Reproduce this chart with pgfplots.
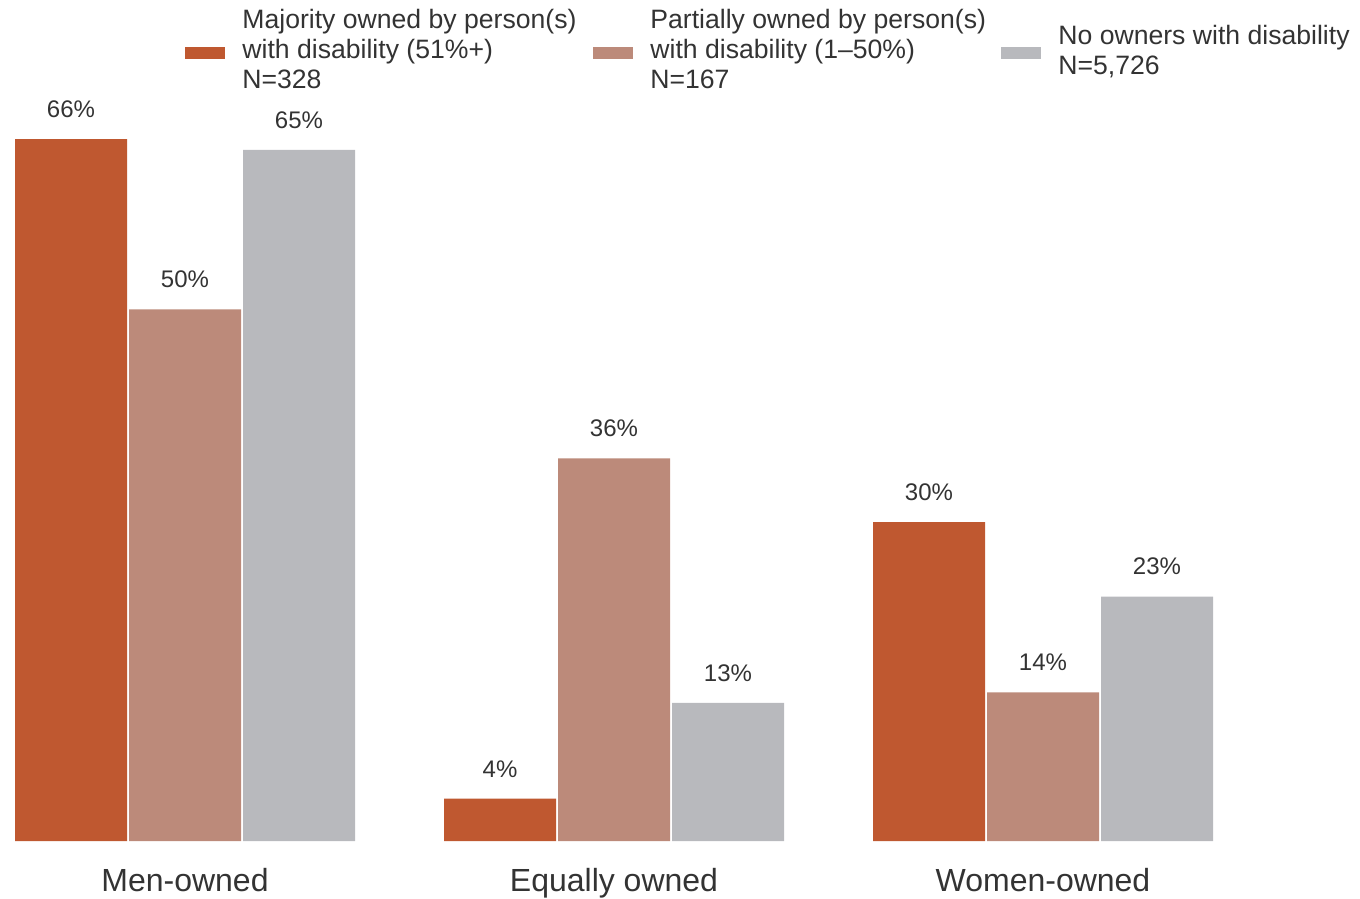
\documentclass[border=0pt]{standalone}
\usepackage{fontspec}
\setmainfont{Liberation Sans}
\usepackage{pgfplots}
\pgfplotsset{compat=1.18}
\definecolor{cMaj}{HTML}{BF5830}
\definecolor{cPart}{HTML}{BC8A7A}
\definecolor{cNo}{HTML}{B8B9BD}
\definecolor{txt}{HTML}{333333}
\begin{document}
\begin{tikzpicture}
\begin{axis}[
  scale only axis,
  width=680pt, height=420.5pt,
  xmin=-0.43124, xmax=2.73893,
  ymin=0, ymax=79.07,
  clip=false,
  axis line style={draw=none},
  major tick length=0pt,
  ytick=\empty,
  xtick={0,1,2},
  xticklabels={Men-owned,Equally owned,Women-owned},
  xticklabel style={font=\fontsize{16}{19}\selectfont, text=txt, inner sep=0pt, anchor=north, yshift=-13.5pt},
  ybar=1pt, bar width=56pt,
  /pgf/number format/assume math mode=true,
  nodes near coords={\pgfmathprintnumber{\pgfplotspointmeta}\%},
  every node near coord/.append style={font=\fontsize{12}{14}\selectfont, text=txt, inner sep=0pt, anchor=south, yshift=10.5pt},
  legend columns=3,
  legend cell align=left,
  legend image code/.code={\fill[#1] (0pt,-12pt) rectangle (20pt,-6pt);},
  legend style={draw=none, fill=none, inner sep=0pt,
    at={(0.136029,0.99168)}, anchor=north west,
    nodes={inner sep=0pt, text=txt, font=\fontsize{13.3}{15}\selectfont},
    /tikz/every odd column/.style={column sep=8.5pt},
    /tikz/every even column/.style={column sep=0pt}},
]
\addplot[fill=cMaj, draw=none] coordinates {(0,66) (1,4) (2,30)};
\addlegendentry{\begin{tabular}{@{}p{175.5pt}@{}}Majority owned by person(s)\\with disability (51\%+)\\N=328\end{tabular}}
\addplot[fill=cPart, draw=none] coordinates {(0,50) (1,36) (2,14)};
\addlegendentry{\begin{tabular}{@{}p{175.5pt}@{}}Partially owned by person(s)\\with disability (1\textendash50\%)\\N=167\end{tabular}}
\addplot[fill=cNo, draw=none] coordinates {(0,65) (1,13) (2,23)};
\addlegendentry{\raisebox{-8pt}{\begin{tabular}{@{}l@{}}No owners with disability\\N=5,726\end{tabular}}}
\end{axis}
\end{tikzpicture}
\end{document}
